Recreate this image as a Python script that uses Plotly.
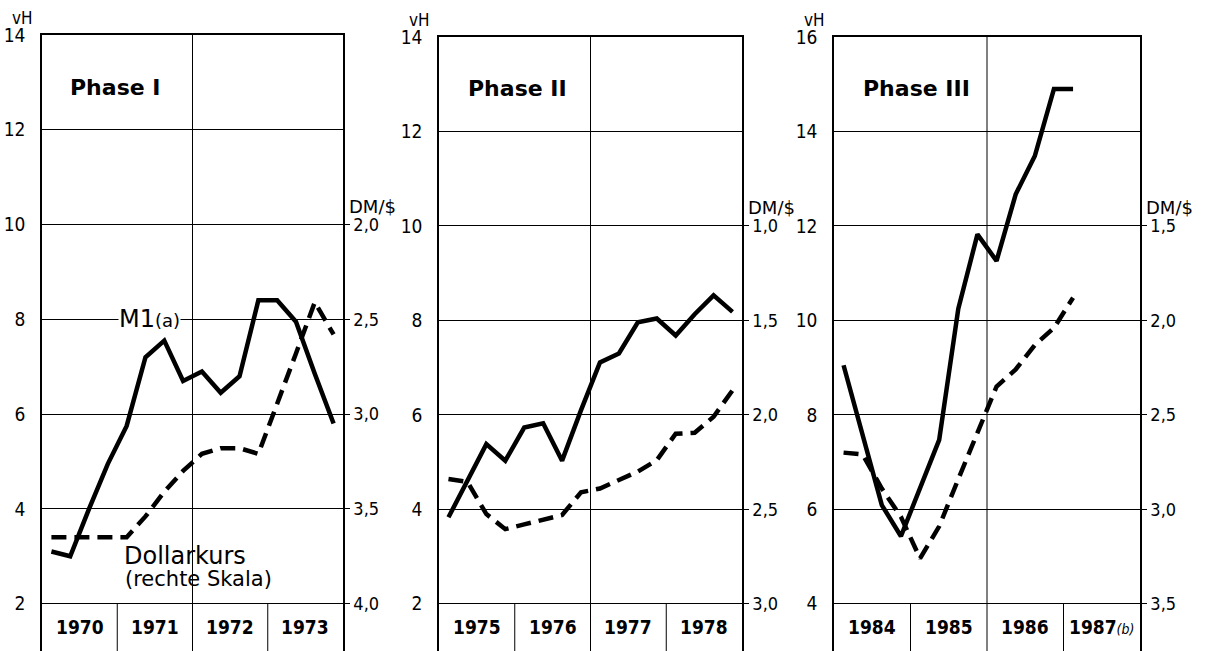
import plotly.graph_objects as go

# ---------------- data ----------------
# Phase I
QUARTERS_I = ["1970Q1", "1970Q2", "1970Q3", "1970Q4", "1971Q1", "1971Q2", "1971Q3", "1971Q4",
              "1972Q1", "1972Q2", "1972Q3", "1972Q4", "1973Q1", "1973Q2", "1973Q3", "1973Q4"]
M1_I = [3.1, 3.0, 4.0, 4.95, 5.75, 7.2, 7.55, 6.7, 6.9, 6.45, 6.8, 8.4, 8.4, 7.95, 6.85, 5.8]
USD_I = [3.65, 3.65, 3.65, 3.65, 3.65, 3.54, 3.41, 3.30, 3.21, 3.18, 3.18, 3.21, 2.95, 2.68, 2.41, 2.58]
YEARS_I = ["1970", "1971", "1972", "1973"]
LEFT_TICKS_I = [2, 4, 6, 8, 10, 12, 14]
RIGHT_TICKS_I = [2.0, 2.5, 3.0, 3.5, 4.0]

# Phase II
QUARTERS_II = ["1975Q1", "1975Q2", "1975Q3", "1975Q4", "1976Q1", "1976Q2", "1976Q3", "1976Q4",
               "1977Q1", "1977Q2", "1977Q3", "1977Q4", "1978Q1", "1978Q2", "1978Q3", "1978Q4"]
M1_II = [3.83, 4.6, 5.38, 5.03, 5.73, 5.82, 5.03, 6.1, 7.11, 7.3, 7.96, 8.04, 7.68, 8.13, 8.53, 8.18]
USD_II = [2.34, 2.355, 2.525, 2.605, 2.58, 2.555, 2.53, 2.41, 2.39, 2.345, 2.30, 2.24, 2.10, 2.095, 2.01, 1.87]
YEARS_II = ["1975", "1976", "1977", "1978"]
LEFT_TICKS_II = [2, 4, 6, 8, 10, 12, 14]
RIGHT_TICKS_II = [1.0, 1.5, 2.0, 2.5, 3.0]

# Phase III
QUARTERS_III = ["1984Q1", "1984Q2", "1984Q3", "1984Q4", "1985Q1", "1985Q2", "1985Q3", "1985Q4",
                "1986Q1", "1986Q2", "1986Q3", "1986Q4", "1987Q1"]
M1_III = [9.05, 7.57, 6.09, 5.43, 6.45, 7.47, 10.25, 11.82, 11.26, 12.67, 13.48, 14.9, 14.9]
USD_III = [2.70, 2.71, 2.89, 3.04, 3.26, 3.09, 2.84, 2.60, 2.35, 2.26, 2.13, 2.04, 1.88]
YEARS_III = ["1984", "1985", "1986", "1987<span style='font-size:14px; font-weight:normal'><i>(b)</i></span>"]
LEFT_TICKS_III = [4, 6, 8, 10, 12, 14, 16]
RIGHT_TICKS_III = [1.5, 2.0, 2.5, 3.0, 3.5]

TITLES = ["Phase I", "Phase II", "Phase III"]


def qx(label):
    year, q = label.split("Q")
    return int(year) + (int(q) - 0.5) / 4.0


W, H = 1208, 651
FONT = "DejaVu Sans Condensed, DejaVu Sans, sans-serif"
WIDE = "DejaVu Sans, sans-serif"

panels = [
    dict(q=QUARTERS_I, m1=M1_I, usd=USD_I, years=YEARS_I, lt=LEFT_TICKS_I, rt=RIGHT_TICKS_I,
         x0=42, x1=343, top=35, yr=[1.0, 14], rr=[4.25, 1.0], start=1970),
    dict(q=QUARTERS_II, m1=M1_II, usd=USD_II, years=YEARS_II, lt=LEFT_TICKS_II, rt=RIGHT_TICKS_II,
         x0=439, x1=742, top=37, yr=[1.0, 14], rr=[3.25, 0.0], start=1975),
    dict(q=QUARTERS_III, m1=M1_III, usd=USD_III, years=YEARS_III, lt=LEFT_TICKS_III, rt=RIGHT_TICKS_III,
         x0=834, x1=1140, top=37, yr=[3.0, 16], rr=[3.75, 0.5], start=1984),
]

fig = go.Figure()
layout = dict(
    width=W, height=H, margin=dict(l=0, r=0, t=0, b=0, pad=0),
    paper_bgcolor="white", plot_bgcolor="white", showlegend=False,
    separators=",.", font=dict(family=FONT, color="black", size=18),
)
shapes = []
annotations = []

for i, p in enumerate(panels):
    n = i + 1
    xa = "x" if n == 1 else f"x{n}"
    yl_i, yr_i = 2 * n - 1, 2 * n
    yl = "y" if yl_i == 1 else f"y{yl_i}"
    yr = f"y{yr_i}"
    xkey = "xaxis" if n == 1 else f"xaxis{n}"
    ylkey = "yaxis" if yl_i == 1 else f"yaxis{yl_i}"
    yrkey = f"yaxis{yr_i}"
    dom_x = [p["x0"] / W, p["x1"] / W]
    dom_y = [0, 1 - p["top"] / H]
    s = p["start"]

    layout[xkey] = dict(domain=dom_x, range=[s, s + 4], anchor=yl, showticklabels=False,
                        showgrid=False, zeroline=False, showline=True, mirror=True,
                        linecolor="black", linewidth=1.5, ticks="", automargin=False)
    layout[ylkey] = dict(domain=dom_y, range=p["yr"], anchor=xa, tickvals=p["lt"],
                         showgrid=True, gridcolor="black", gridwidth=1, zeroline=False,
                         showline=True, linecolor="black", linewidth=1.5, ticks="",
                         ticklabelstandoff=11, automargin=False,
                         tickfont=dict(size=19, family=FONT))
    layout[yrkey] = dict(domain=dom_y, range=p["rr"], anchor=xa, overlaying=yl, side="right",
                         tickvals=p["rt"], tickformat=".1f", showgrid=False, zeroline=False,
                         showline=True, linecolor="black", linewidth=1.5, ticks="outside",
                         ticklen=5, tickcolor="black", tickwidth=1, automargin=False,
                         tickfont=dict(size=18, family=FONT))

    xs = [qx(q) for q in p["q"]]
    fig.add_trace(go.Scatter(x=xs, y=p["m1"], xaxis=xa, yaxis=yl, mode="lines",
                             line=dict(color="black", width=4.5), hoverinfo="skip"))
    fig.add_trace(go.Scatter(x=xs, y=p["usd"], xaxis=xa, yaxis=yr, mode="lines",
                             line=dict(color="black", width=4.5, dash="15px,8px"), hoverinfo="skip"))

    ybot, ytop = p["yr"]
    first_grid = p["lt"][0]
    # year strip dividers and center line
    for k in (1, 3):
        shapes.append(dict(type="line", xref=xa, yref=yl, x0=s + k, x1=s + k, y0=ybot, y1=first_grid,
                           line=dict(color="black", width=1)))
    shapes.append(dict(type="line", xref=xa, yref=yl, x0=s + 2, x1=s + 2, y0=ybot, y1=ytop,
                       line=dict(color="black", width=1)))
    for k, lab in enumerate(p["years"]):
        annotations.append(dict(x=s + k + 0.5, y=(ybot + first_grid) / 2, xref=xa, yref=yl,
                                text=f"<b>{lab}</b>", showarrow=False,
                                font=dict(size=19, family=FONT)))
    # phase title
    annotations.append(dict(x=s + 0.35, y=ytop - 1.1, xref=xa, yref=yl,
                            text=f"<b>{TITLES[i]}</b>",
                            showarrow=False, xanchor="left",
                            font=dict(size=22, family=WIDE)))
    # vH label
    annotations.append(dict(x=0, y=1, xref=f"{xa} domain", yref=f"{yl} domain",
                            text="vH", showarrow=False, xanchor="left", yanchor="middle",
                            xshift=-32, yshift=17,
                            font=dict(size=17, family=FONT)))
    # DM/$ label
    annotations.append(dict(x=1, y=p["rt"][0], xref=f"{xa} domain", yref=yr,
                            text="DM/$", showarrow=False, xanchor="left", yanchor="middle",
                            xshift=4, yshift=18,
                            font=dict(size=18, family=WIDE)))

# series labels in phase I
annotations.append(dict(x=1971.43, y=8, xref="x", yref="y",
                        text="M1<span style='font-size:18px'>(a)</span>", showarrow=False,
                        bgcolor="white", borderpad=0, font=dict(size=24, family=WIDE)))
annotations.append(dict(x=1971.08, y=3.01, xref="x", yref="y", text="Dollarkurs",
                        showarrow=False, xanchor="left", borderpad=0,
                        font=dict(size=24, family=WIDE)))
annotations.append(dict(x=1971.08, y=2.52, xref="x", yref="y", text="(rechte Skala)",
                        showarrow=False, xanchor="left",
                        font=dict(size=21, family=WIDE)))

layout["shapes"] = shapes
layout["annotations"] = annotations
fig.update_layout(**layout)
fig.write_html("out.html", config={"displayModeBar": False},
               post_script="document.body.style.margin='0';document.body.style.overflow='hidden';")
